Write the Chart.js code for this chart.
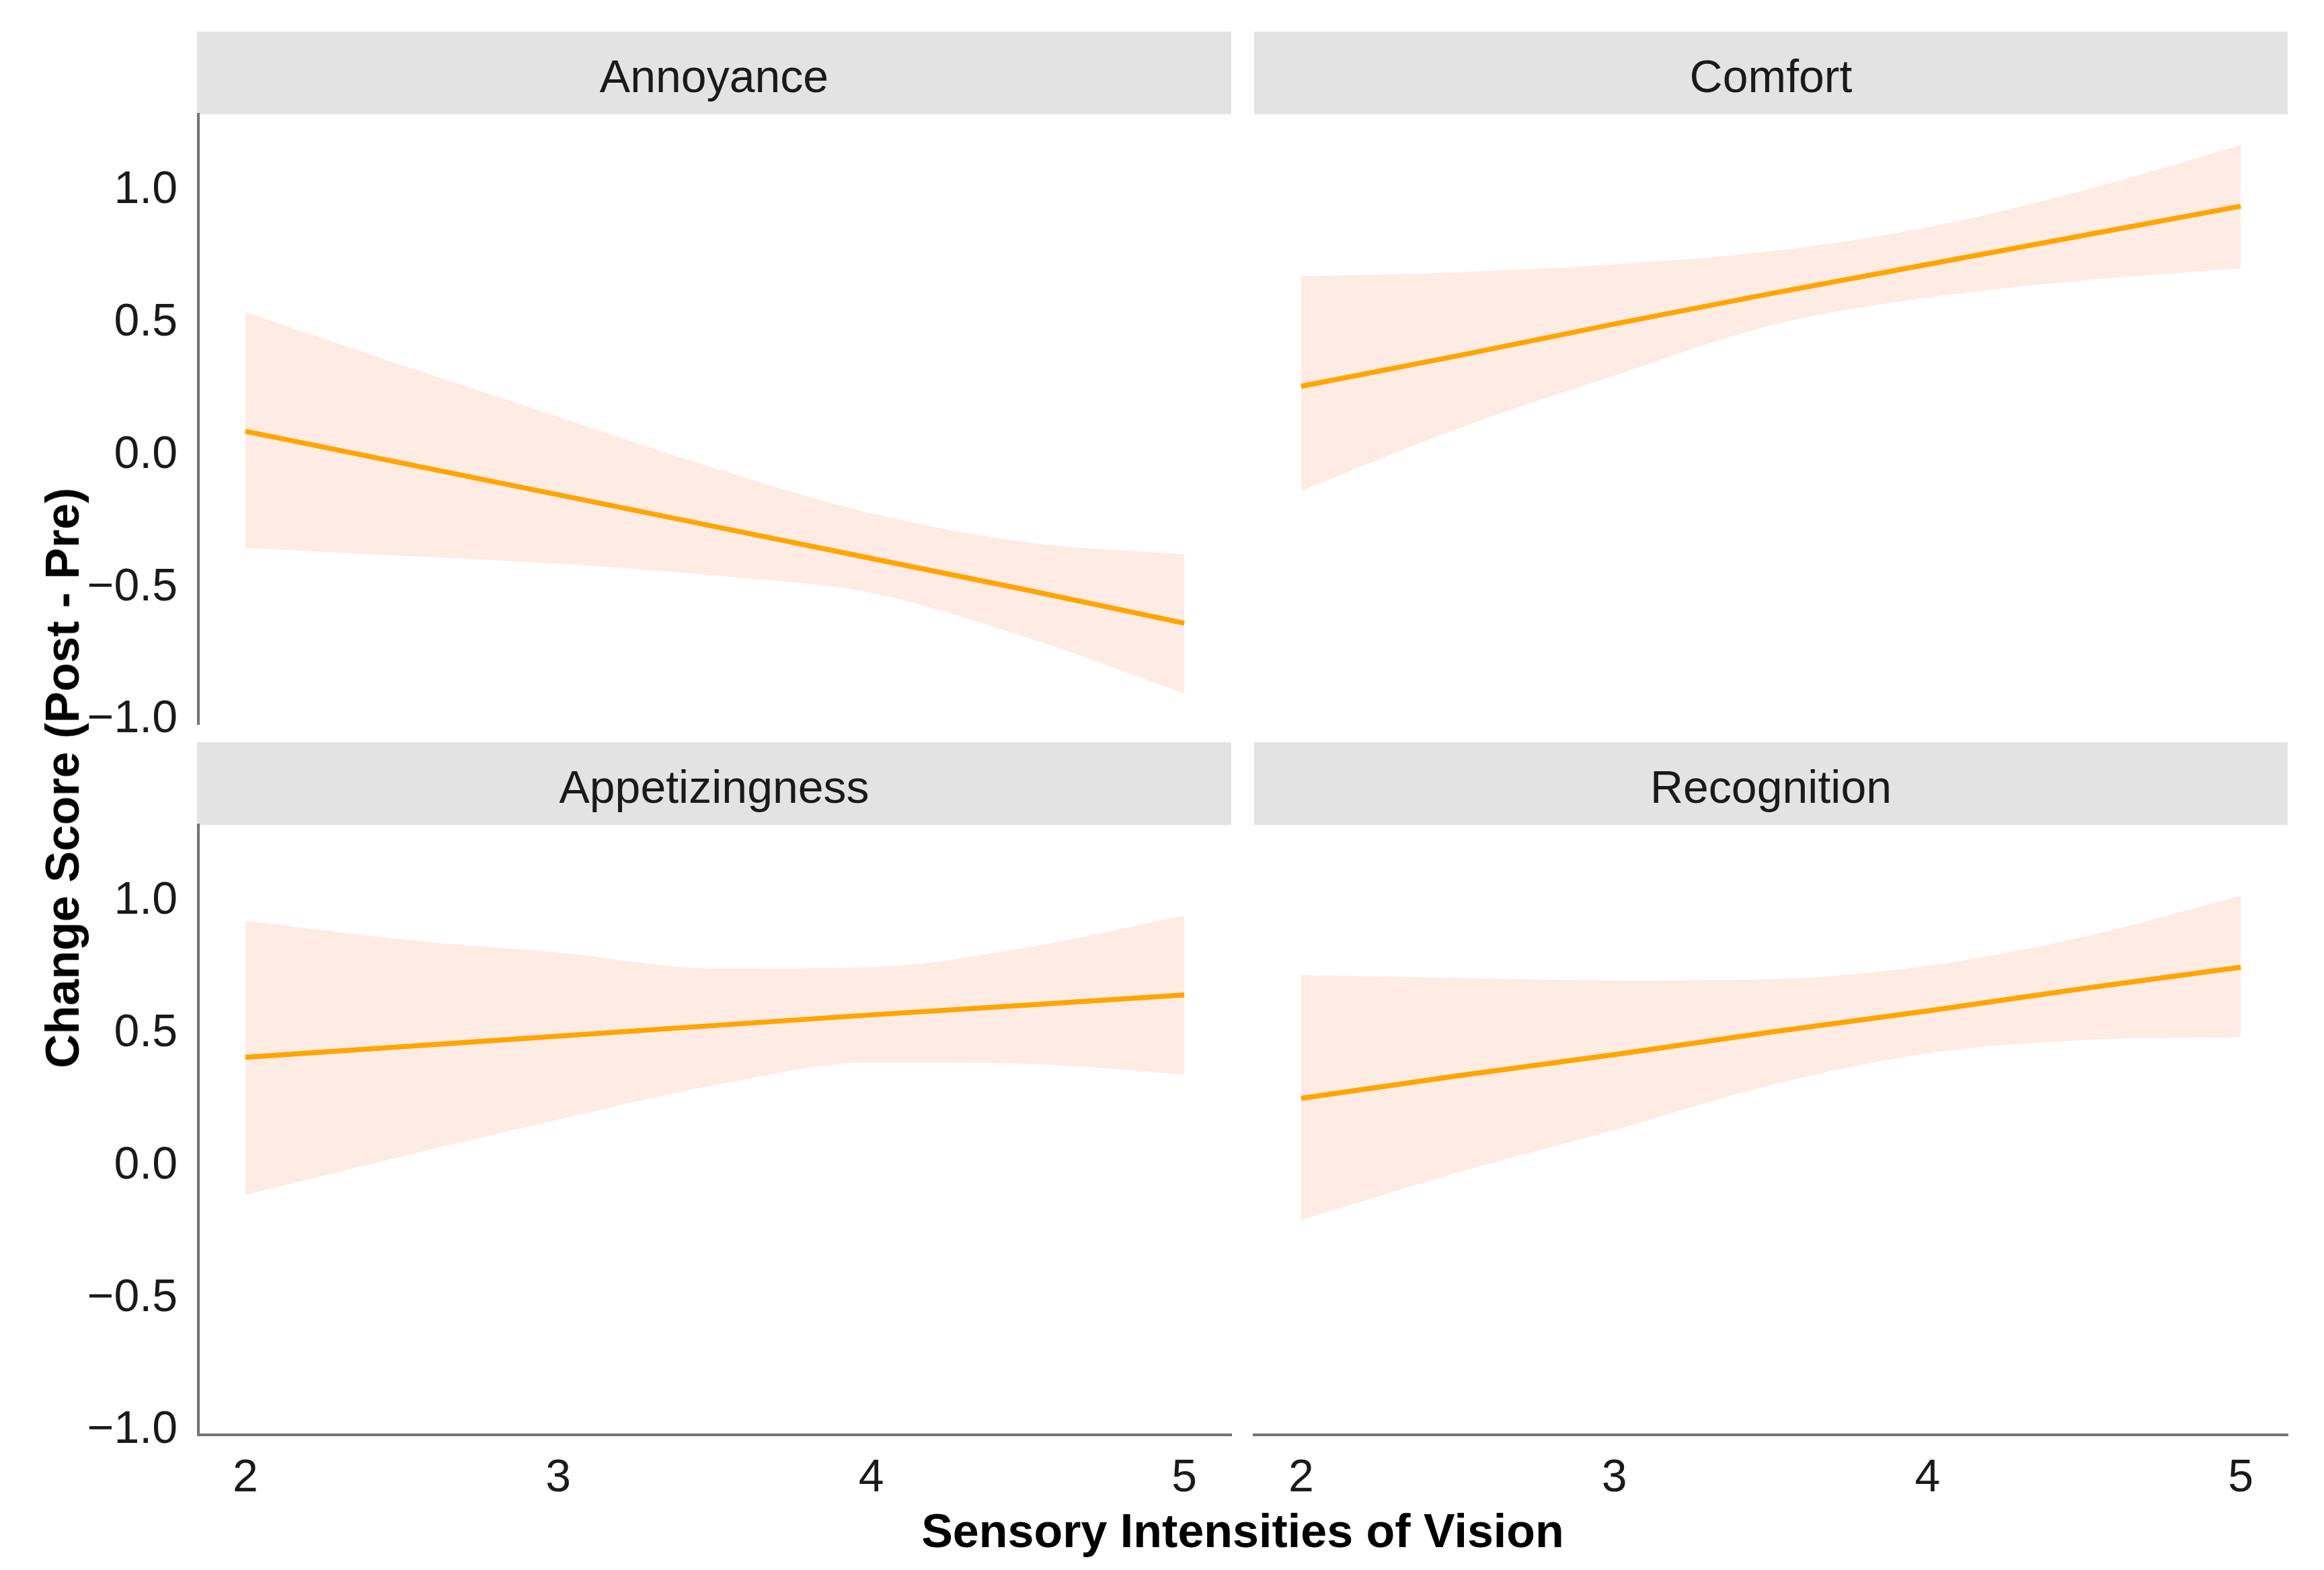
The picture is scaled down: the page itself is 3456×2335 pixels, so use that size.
<!DOCTYPE html>
<html>
<head>
<meta charset="utf-8">
<script src="https://cdn.jsdelivr.net/npm/chart.js@4.4.1/dist/chart.umd.min.js"></script>
<style>
  html, body { margin: 0; padding: 0; background: #ffffff; }
  body { width: 3456px; height: 2335px; position: relative; overflow: hidden; font-family: "Liberation Sans", Arial, sans-serif; }
  canvas.panel { position: absolute; left: 0; top: 0; }
  .strip { position: absolute; background: #e3e3e3; color: #1a1a1a; font-size: 68px; display: flex; align-items: center; justify-content: center; box-sizing: border-box; padding-top: 8px; }
  .axis-title { position: absolute; font-weight: bold; font-size: 70px; color: #000; white-space: nowrap; }
</style>
</head>
<body>
<script>
// ---------------- data ----------------
const panelNames = ['Annoyance', 'Comfort', 'Appetizingness', 'Recognition'];
const xValues = [2, 2.5, 3, 3.5, 4, 4.5, 5];

const annoyanceFit   = [0.09, -0.03, -0.15, -0.27, -0.39, -0.51, -0.635];
const annoyanceLower = [-0.35, -0.38, -0.41, -0.455, -0.52, -0.69, -0.90];
const annoyanceUpper = [0.54, 0.34, 0.145, -0.05, -0.22, -0.33, -0.375];

const comfortFit   = [0.26, 0.375, 0.495, 0.61, 0.72, 0.83, 0.94];
const comfortLower = [-0.135, 0.10, 0.30, 0.49, 0.595, 0.66, 0.705];
const comfortUpper = [0.675, 0.69, 0.72, 0.77, 0.86, 1.00, 1.17];

const appetizingnessFit   = [0.41, 0.45, 0.49, 0.53, 0.57, 0.607, 0.645];
const appetizingnessLower = [-0.11, 0.035, 0.175, 0.305, 0.39, 0.385, 0.345];
const appetizingnessUpper = [0.925, 0.855, 0.805, 0.745, 0.75, 0.825, 0.945];

const recognitionFit   = [0.255, 0.34, 0.42, 0.505, 0.585, 0.67, 0.75];
const recognitionLower = [-0.205, -0.025, 0.135, 0.305, 0.425, 0.475, 0.485];
const recognitionUpper = [0.72, 0.71, 0.70, 0.705, 0.755, 0.865, 1.02];

const xTicks = [2, 3, 4, 5];
const xTickLabels = ['2', '3', '4', '5'];
const yTicks = [-1, -0.5, 0, 0.5, 1];
const yTickLabels = ['\u22121.0', '\u22120.5', '0.0', '0.5', '1.0'];
const xTitle = 'Sensory Intensities of Vision';
const yTitle = 'Change Score (Post - Pre)';

const panelFits   = [annoyanceFit, comfortFit, appetizingnessFit, recognitionFit];
const panelLowers = [annoyanceLower, comfortLower, appetizingnessLower, recognitionLower];
const panelUppers = [annoyanceUpper, comfortUpper, appetizingnessUpper, recognitionUpper];

// ---------------- layout / style ----------------
const W = 3456, H = 2335;
const cols = [{ left: 293, right: 1831 }, { left: 1865, right: 3402 }];
const rows = [
  { stripTop: 47, stripBottom: 170, plotBottom: 1077 },
  { stripTop: 1104, stripBottom: 1227, plotBottom: 2134 }
];
const X_RANGE = [1.85, 5.15];
const Y_RANGE = [-1.016, 1.287];
const X_AXIS_H = 130;
const Y_AXIS_W = 295;
const FONT = '"Liberation Sans", Arial, sans-serif';
const LINE_COLOR = '#FFA500';
const BAND_COLOR = '#fdebe4';
const AXIS_COLOR = '#737373';
const TEXT_COLOR = '#1a1a1a';

function toPoints(vals) { return xValues.map((x, i) => ({ x: x, y: vals[i] })); }

panelNames.forEach((name, p) => {
  const c = p % 2, r = Math.floor(p / 2);
  const col = cols[c], row = rows[r];

  const strip = document.createElement('div');
  strip.className = 'strip';
  strip.textContent = name;
  strip.style.left = col.left + 'px';
  strip.style.top = row.stripTop + 'px';
  strip.style.width = (col.right - col.left) + 'px';
  strip.style.height = (row.stripBottom - row.stripTop) + 'px';
  document.body.appendChild(strip);

  const cv = document.createElement('canvas');
  cv.className = 'panel';
  cv.width = W; cv.height = H;
  document.body.appendChild(cv);

  const showX = r === 1, showY = c === 0;
  new Chart(cv, {
    type: 'line',
    data: {
      datasets: [
        { data: toPoints(panelFits[p]), borderColor: LINE_COLOR, borderWidth: 7.5, pointRadius: 0, fill: false, tension: 0 },
        { data: toPoints(panelUppers[p]), borderWidth: 0, borderColor: 'rgba(0,0,0,0)', backgroundColor: BAND_COLOR, pointRadius: 0, fill: '+1', cubicInterpolationMode: 'monotone' },
        { data: toPoints(panelLowers[p]), borderWidth: 0, borderColor: 'rgba(0,0,0,0)', backgroundColor: BAND_COLOR, pointRadius: 0, fill: false, cubicInterpolationMode: 'monotone' }
      ]
    },
    options: {
      responsive: false,
      devicePixelRatio: 1,
      animation: false,
      events: [],
      layout: {
        padding: {
          left: showY ? 0 : col.left,
          right: W - col.right,
          top: row.stripBottom,
          bottom: showX ? (H - row.plotBottom - X_AXIS_H) : (H - row.plotBottom)
        }
      },
      plugins: { legend: { display: false }, tooltip: { enabled: false }, title: { display: false } },
      scales: {
        x: {
          type: 'linear', display: showX, min: X_RANGE[0], max: X_RANGE[1],
          afterBuildTicks: s => { s.ticks = xTicks.map(v => ({ value: v })); },
          afterFit: s => { s.height = showX ? X_AXIS_H : 0; },
          grid: { display: false, drawTicks: false },
          border: { display: true, color: AXIS_COLOR, width: 4 },
          ticks: {
            padding: 24, maxRotation: 0, autoSkip: false, color: TEXT_COLOR,
            font: { family: FONT, size: 68 },
            callback: v => xTickLabels[xTicks.indexOf(v)]
          }
        },
        y: {
          type: 'linear', display: showY, min: Y_RANGE[0], max: Y_RANGE[1],
          afterBuildTicks: s => { s.ticks = yTicks.map(v => ({ value: v })); },
          afterFit: s => { s.width = showY ? Y_AXIS_W : 0; },
          grid: { display: false, drawTicks: false },
          border: { display: true, color: AXIS_COLOR, width: 4 },
          ticks: {
            padding: 31, autoSkip: false, color: TEXT_COLOR,
            font: { family: FONT, size: 68 },
            callback: v => yTickLabels[yTicks.indexOf(v)]
          }
        }
      }
    }
  });
});

const xt = document.createElement('div');
xt.className = 'axis-title';
xt.textContent = xTitle;
xt.style.left = '1848px'; xt.style.top = '2277px';
xt.style.transform = 'translate(-50%, -50%)';
document.body.appendChild(xt);

const yt = document.createElement('div');
yt.className = 'axis-title';
yt.textContent = yTitle;
yt.style.left = '93px'; yt.style.top = '1157px';
yt.style.transform = 'translate(-50%, -50%) rotate(-90deg)';
document.body.appendChild(yt);
</script>
</body>
</html>
